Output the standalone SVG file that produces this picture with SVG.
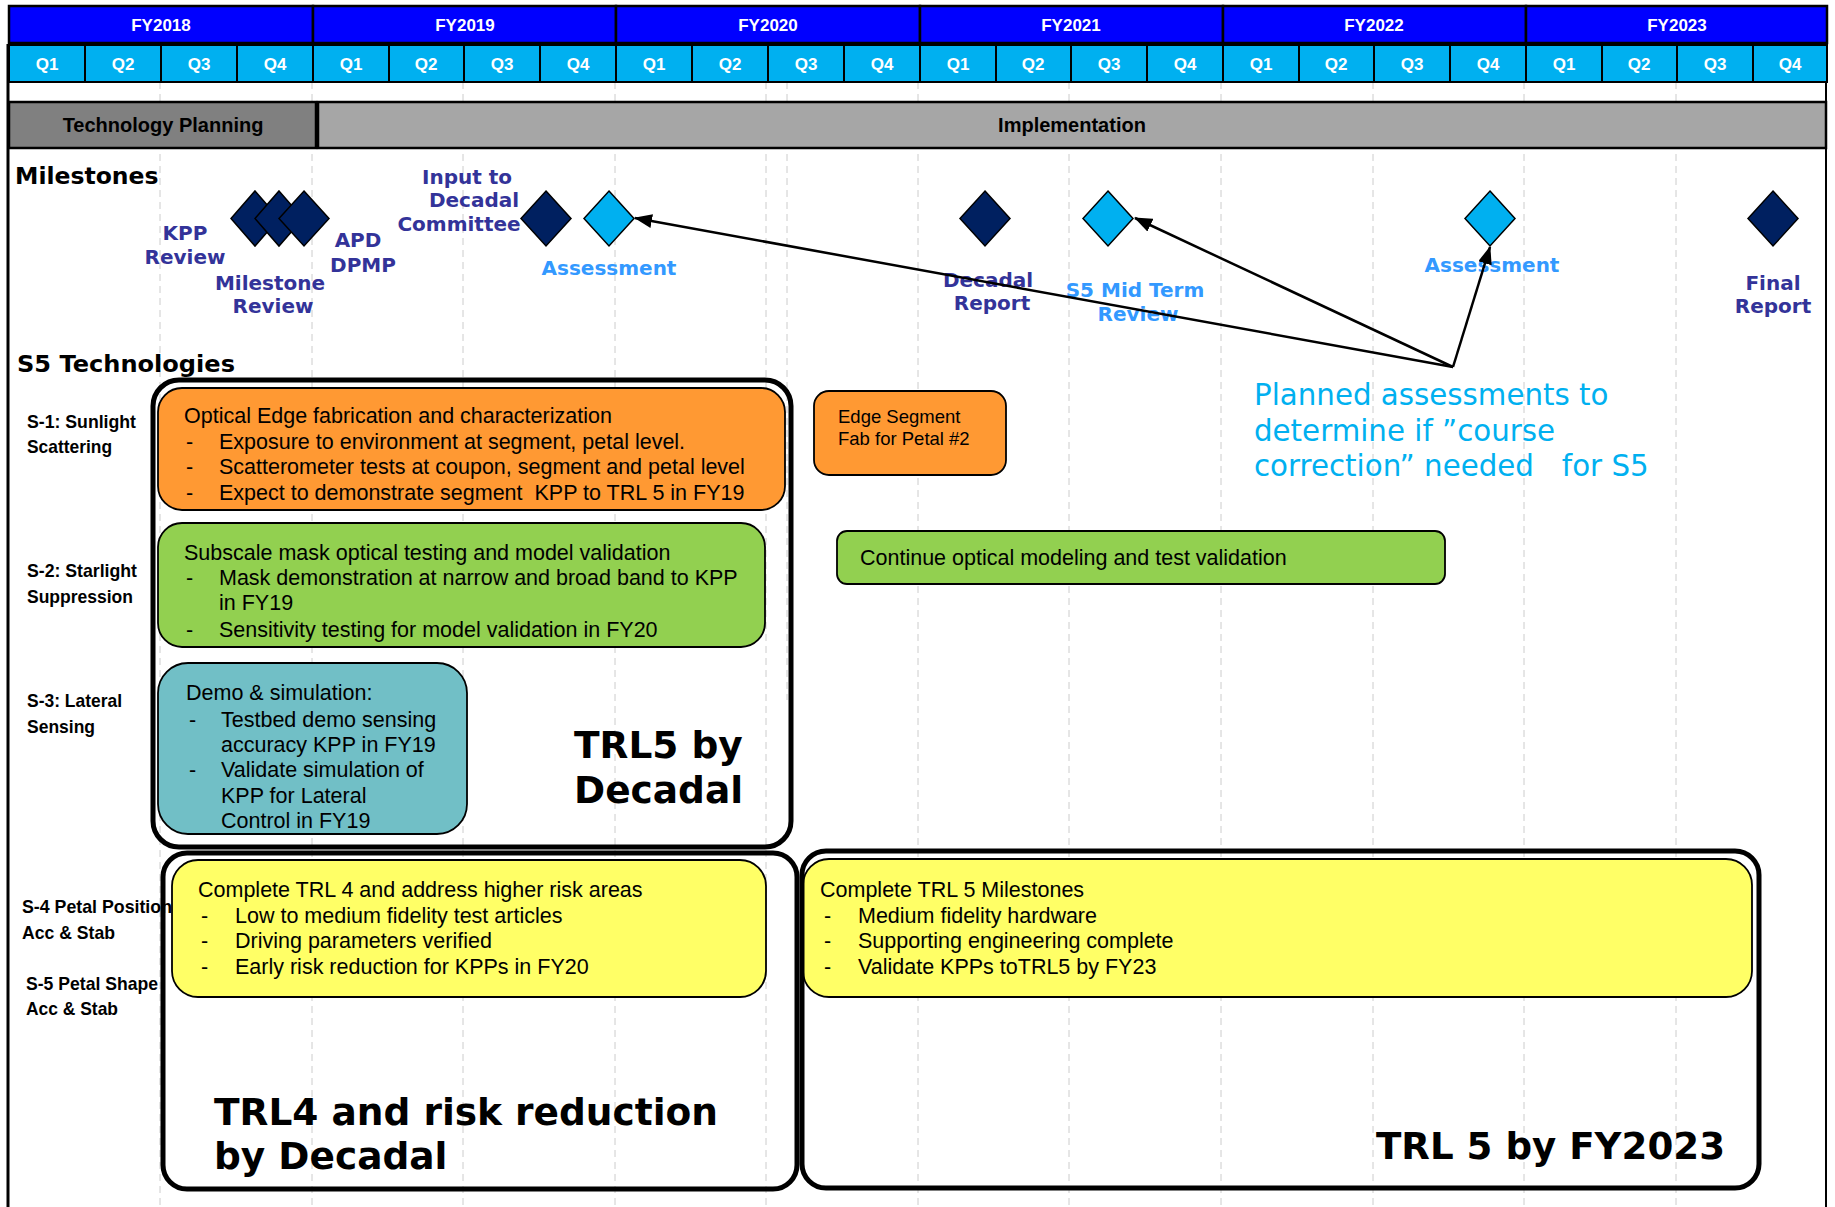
<svg xmlns="http://www.w3.org/2000/svg" width="1835" height="1207" viewBox="0 0 1835 1207">
  <defs>
    <marker id="arrowHead" markerUnits="userSpaceOnUse" markerWidth="18" markerHeight="14" refX="17" refY="7" orient="auto">
      <path d="M0,0 L18,7 L0,14 z" fill="#000"/>
    </marker>
  </defs>
  <style>
    .fy { fill: #0000FF; stroke: #000; stroke-width: 2.5; }
    .q { fill: #00B0F0; stroke: #000; stroke-width: 2; }
    .hdr { font-family: "Liberation Sans", Arial, sans-serif; font-weight: bold; font-size: 17px; fill: #fff; text-anchor: middle; }
    .phase { font-family: "Liberation Sans", Arial, sans-serif; font-weight: bold; font-size: 20px; fill: #000; text-anchor: middle; }
    .grid { stroke: #CCCCCC; stroke-width: 1; stroke-dasharray: 7 5; }
    .section { font-family: "DejaVu Sans", Verdana, sans-serif; font-weight: bold; font-size: 23.5px; fill: #000; }
    .dk { fill: #002060; stroke: #000; stroke-width: 1.5; }
    .lt { fill: #00B0F0; stroke: #000; stroke-width: 1.5; }
    .mlab { font-family: "DejaVu Sans", Verdana, sans-serif; font-weight: bold; font-size: 20px; text-anchor: middle; }
    .navy { fill: #333399; }
    .sky { fill: #3399FF; }
    .conn { stroke: #000; stroke-width: 2.5; fill: none; }
    .note { font-family: "DejaVu Sans", Verdana, sans-serif; font-size: 29.3px; fill: #00B0F0; white-space: pre; }
    .row { font-family: "Liberation Sans Narrow", "Liberation Sans", Arial, sans-serif; font-weight: bold; font-size: 19px; fill: #000; }
    .body { font-family: "Liberation Sans", Arial, sans-serif; font-size: 21.5px; fill: #000; white-space: pre; }
    .small { font-family: "Liberation Sans", Arial, sans-serif; font-size: 18.5px; fill: #000; }
    .frame { fill: none; stroke: #000; stroke-width: 5; }
    .big { font-family: "DejaVu Sans", Verdana, sans-serif; font-weight: bold; font-size: 37.5px; fill: #000; }
    .box { stroke: #000; stroke-width: 1.8; }
  </style>

  <rect width="1835" height="1207" fill="#fff"/>

  <!-- half-year grid -->
  <g id="gridlines">
    <line class="grid" x1="160" y1="82" x2="160" y2="1207"/>
    <line class="grid" x1="312" y1="82" x2="312" y2="1207"/>
    <line class="grid" x1="463" y1="82" x2="463" y2="1207"/>
    <line class="grid" x1="615" y1="82" x2="615" y2="1207"/>
    <line class="grid" x1="766" y1="82" x2="766" y2="1207"/>
    <line class="grid" x1="787" y1="82" x2="787" y2="700"/>
    <line class="grid" x1="918" y1="82" x2="918" y2="1207"/>
    <line class="grid" x1="1069" y1="82" x2="1069" y2="1207"/>
    <line class="grid" x1="1221" y1="82" x2="1221" y2="1207"/>
    <line class="grid" x1="1373" y1="82" x2="1373" y2="1207"/>
    <line class="grid" x1="1524" y1="82" x2="1524" y2="1207"/>
    <line class="grid" x1="1676" y1="82" x2="1676" y2="1207"/>
  </g>

  <!-- fiscal year / quarter header -->
  <g id="header">
    <rect class="fy" x="9" y="6" width="304" height="37"/>
    <rect class="fy" x="313" y="6" width="303" height="37"/>
    <rect class="fy" x="616" y="6" width="304" height="37"/>
    <rect class="fy" x="920" y="6" width="303" height="37"/>
    <rect class="fy" x="1223" y="6" width="303" height="37"/>
    <rect class="fy" x="1526" y="6" width="301" height="37"/>
    <text class="hdr" x="161" y="31">FY2018</text>
    <text class="hdr" x="465" y="31">FY2019</text>
    <text class="hdr" x="768" y="31">FY2020</text>
    <text class="hdr" x="1071" y="31">FY2021</text>
    <text class="hdr" x="1374" y="31">FY2022</text>
    <text class="hdr" x="1677" y="31">FY2023</text>

    <rect class="q" x="9" y="45" width="76" height="37"/>
    <rect class="q" x="85" y="45" width="76" height="37"/>
    <rect class="q" x="161" y="45" width="76" height="37"/>
    <rect class="q" x="237" y="45" width="76" height="37"/>
    <rect class="q" x="313" y="45" width="76" height="37"/>
    <rect class="q" x="389" y="45" width="75" height="37"/>
    <rect class="q" x="464" y="45" width="76" height="37"/>
    <rect class="q" x="540" y="45" width="76" height="37"/>
    <rect class="q" x="616" y="45" width="76" height="37"/>
    <rect class="q" x="692" y="45" width="76" height="37"/>
    <rect class="q" x="768" y="45" width="76" height="37"/>
    <rect class="q" x="844" y="45" width="76" height="37"/>
    <rect class="q" x="920" y="45" width="76" height="37"/>
    <rect class="q" x="996" y="45" width="75" height="37"/>
    <rect class="q" x="1071" y="45" width="76" height="37"/>
    <rect class="q" x="1147" y="45" width="76" height="37"/>
    <rect class="q" x="1223" y="45" width="76" height="37"/>
    <rect class="q" x="1299" y="45" width="75" height="37"/>
    <rect class="q" x="1374" y="45" width="76" height="37"/>
    <rect class="q" x="1450" y="45" width="76" height="37"/>
    <rect class="q" x="1526" y="45" width="76" height="37"/>
    <rect class="q" x="1602" y="45" width="75" height="37"/>
    <rect class="q" x="1677" y="45" width="76" height="37"/>
    <rect class="q" x="1753" y="45" width="74" height="37"/>
    <text class="hdr" x="47" y="70">Q1</text>
    <text class="hdr" x="123" y="70">Q2</text>
    <text class="hdr" x="199" y="70">Q3</text>
    <text class="hdr" x="275" y="70">Q4</text>
    <text class="hdr" x="351" y="70">Q1</text>
    <text class="hdr" x="426" y="70">Q2</text>
    <text class="hdr" x="502" y="70">Q3</text>
    <text class="hdr" x="578" y="70">Q4</text>
    <text class="hdr" x="654" y="70">Q1</text>
    <text class="hdr" x="730" y="70">Q2</text>
    <text class="hdr" x="806" y="70">Q3</text>
    <text class="hdr" x="882" y="70">Q4</text>
    <text class="hdr" x="958" y="70">Q1</text>
    <text class="hdr" x="1033" y="70">Q2</text>
    <text class="hdr" x="1109" y="70">Q3</text>
    <text class="hdr" x="1185" y="70">Q4</text>
    <text class="hdr" x="1261" y="70">Q1</text>
    <text class="hdr" x="1336" y="70">Q2</text>
    <text class="hdr" x="1412" y="70">Q3</text>
    <text class="hdr" x="1488" y="70">Q4</text>
    <text class="hdr" x="1564" y="70">Q1</text>
    <text class="hdr" x="1639" y="70">Q2</text>
    <text class="hdr" x="1715" y="70">Q3</text>
    <text class="hdr" x="1790" y="70">Q4</text>
  </g>

  <!-- outer side borders -->
  <line x1="8" y1="44" x2="8" y2="1207" stroke="#000" stroke-width="3"/>
  <line x1="1826" y1="82" x2="1826" y2="1207" stroke="#000" stroke-width="2"/>

  <!-- phase bar -->
  <g id="phases">
    <rect x="9" y="102" width="307" height="46" fill="#808080" stroke="#000" stroke-width="2.5"/>
    <rect x="318" y="102" width="1508" height="46" fill="#A6A6A6" stroke="#000" stroke-width="2.5"/>
    <text class="phase" x="163" y="132">Technology Planning</text>
    <text class="phase" x="1072" y="132">Implementation</text>
  </g>

  <text class="section" x="15" y="184">Milestones</text>
  <text class="section" x="17" y="372" textLength="218" lengthAdjust="spacingAndGlyphs">S5 Technologies</text>

  <!-- milestones -->
  <g id="ms-kpp-review">
    <path class="dk" d="M255,191 L279,218.5 L255,246 L231,218.5 z"/>
    <text class="mlab navy" x="185" y="240">KPP</text>
    <text class="mlab navy" x="185" y="264">Review</text>
  </g>
  <g id="ms-milestone-review">
    <path class="dk" d="M279,191 L303,218.5 L279,246 L255,218.5 z"/>
    <text class="mlab navy" x="270" y="290">Milestone</text>
    <text class="mlab navy" x="273" y="313">Review</text>
  </g>
  <g id="ms-apd-dpmp">
    <path class="dk" d="M304,191 L329,218.5 L304,246 L279,218.5 z"/>
    <text class="mlab navy" x="358" y="247">APD</text>
    <text class="mlab navy" x="363" y="272">DPMP</text>
  </g>
  <g id="ms-input-decadal">
    <path class="dk" d="M546,191 L571,218.5 L546,246 L521,218.5 z"/>
    <text class="mlab navy" x="467" y="184">Input to</text>
    <text class="mlab navy" x="474" y="207">Decadal</text>
    <text class="mlab navy" x="459" y="231">Committee</text>
  </g>
  <g id="ms-assessment-1">
    <path class="lt" d="M609,191 L634,218.5 L609,246 L584,218.5 z"/>
    <text class="mlab sky" x="609" y="275">Assessment</text>
  </g>
  <g id="ms-decadal-report">
    <path class="dk" d="M985,191 L1010,218.5 L985,246 L960,218.5 z"/>
    <text class="mlab navy" x="988" y="287">Decadal</text>
    <text class="mlab navy" x="992" y="310">Report</text>
  </g>
  <g id="ms-midterm">
    <path class="lt" d="M1108,191 L1133,218.5 L1108,246 L1083,218.5 z"/>
    <text class="mlab sky" x="1135" y="297">S5 Mid Term</text>
    <text class="mlab sky" x="1138" y="321">Review</text>
  </g>
  <g id="ms-assessment-2">
    <path class="lt" d="M1490,191 L1515,218.5 L1490,246 L1465,218.5 z"/>
    <text class="mlab sky" x="1492" y="272">Assessment</text>
  </g>
  <g id="ms-final-report">
    <path class="dk" d="M1773,191 L1798,218.5 L1773,246 L1748,218.5 z"/>
    <text class="mlab navy" x="1773" y="290">Final</text>
    <text class="mlab navy" x="1773" y="313">Report</text>
  </g>

  <!-- assessment call-outs -->
  <g id="connectors">
    <line class="conn" x1="1453" y1="367" x2="635" y2="218" stroke-width="3" marker-end="url(#arrowHead)"/>
    <line class="conn" x1="1453" y1="367" x2="1135" y2="218" marker-end="url(#arrowHead)"/>
    <line class="conn" x1="1453" y1="367" x2="1490" y2="247" marker-end="url(#arrowHead)"/>
  </g>

  <g id="note">
    <text class="note" x="1254" y="405">Planned assessments to</text>
    <text class="note" x="1254" y="441">determine if ”course</text>
    <text class="note" x="1254" y="476">correction” needed   for S5</text>
  </g>

  <!-- technology row labels -->
  <g id="row-labels">
    <text class="row" x="27" y="428" textLength="109" lengthAdjust="spacingAndGlyphs">S-1: Sunlight</text>
    <text class="row" x="27" y="453" textLength="85" lengthAdjust="spacingAndGlyphs">Scattering</text>
    <text class="row" x="27" y="577" textLength="110" lengthAdjust="spacingAndGlyphs">S-2: Starlight</text>
    <text class="row" x="27" y="603" textLength="106" lengthAdjust="spacingAndGlyphs">Suppression</text>
    <text class="row" x="27" y="707" textLength="95" lengthAdjust="spacingAndGlyphs">S-3: Lateral</text>
    <text class="row" x="27" y="733" textLength="68" lengthAdjust="spacingAndGlyphs">Sensing</text>
    <text class="row" x="22" y="913" textLength="150" lengthAdjust="spacingAndGlyphs">S-4 Petal Position</text>
    <text class="row" x="22" y="939" textLength="93" lengthAdjust="spacingAndGlyphs">Acc &amp; Stab</text>
    <text class="row" x="26" y="990" textLength="132" lengthAdjust="spacingAndGlyphs">S-5 Petal Shape</text>
    <text class="row" x="26" y="1015" textLength="92" lengthAdjust="spacingAndGlyphs">Acc &amp; Stab</text>
  </g>

  <!-- S-1 -->
  <g id="s1-optical-edge">
    <rect class="box" x="158" y="388" width="627" height="122" rx="24" fill="#FF9933"/>
    <text class="body" x="184" y="423">Optical Edge fabrication and characterization</text>
    <text class="body" x="186" y="449">-</text>
    <text class="body" x="219" y="449">Exposure to environment at segment, petal level.</text>
    <text class="body" x="186" y="474">-</text>
    <text class="body" x="219" y="474">Scatterometer tests at coupon, segment and petal level</text>
    <text class="body" x="186" y="500">-</text>
    <text class="body" x="219" y="500">Expect to demonstrate segment  KPP to TRL 5 in FY19</text>
  </g>
  <g id="s1-edge-segment">
    <rect class="box" x="814" y="391" width="192" height="84" rx="15" fill="#FF9933"/>
    <text class="small" x="838" y="423">Edge Segment</text>
    <text class="small" x="838" y="445">Fab for Petal #2</text>
  </g>

  <!-- S-2 -->
  <g id="s2-subscale-mask">
    <rect class="box" x="158" y="523" width="607" height="124" rx="24" fill="#92D050"/>
    <text class="body" x="184" y="560">Subscale mask optical testing and model validation</text>
    <text class="body" x="186" y="585">-</text>
    <text class="body" x="219" y="585">Mask demonstration at narrow and broad band to KPP</text>
    <text class="body" x="219" y="610">in FY19</text>
    <text class="body" x="186" y="637">-</text>
    <text class="body" x="219" y="637">Sensitivity testing for model validation in FY20</text>
  </g>
  <g id="s2-continue">
    <rect class="box" x="837" y="531" width="608" height="53" rx="10" fill="#92D050"/>
    <text class="body" x="860" y="565">Continue optical modeling and test validation</text>
  </g>

  <!-- S-3 -->
  <g id="s3-demo">
    <rect class="box" x="158" y="663" width="309" height="171" rx="30" fill="#71BFC6"/>
    <text class="body" x="186" y="700">Demo &amp; simulation:</text>
    <text class="body" x="189" y="727">-</text>
    <text class="body" x="221" y="727">Testbed demo sensing</text>
    <text class="body" x="221" y="752">accuracy KPP in FY19</text>
    <text class="body" x="189" y="777">-</text>
    <text class="body" x="221" y="777">Validate simulation of</text>
    <text class="body" x="221" y="803">KPP for Lateral</text>
    <text class="body" x="221" y="828">Control in FY19</text>
  </g>

  <g id="goal-trl5-decadal">
    <rect class="frame" x="153" y="380" width="638" height="467" rx="26"/>
    <text class="big" x="574" y="758">TRL5 by</text>
    <text class="big" x="574" y="803">Decadal</text>
  </g>

  <!-- S-4 / S-5 -->
  <g id="s45-trl4">
    <rect class="box" x="172" y="860" width="594" height="137" rx="26" fill="#FFFF66"/>
    <text class="body" x="198" y="897">Complete TRL 4 and address higher risk areas</text>
    <text class="body" x="201" y="923">-</text>
    <text class="body" x="235" y="923">Low to medium fidelity test articles</text>
    <text class="body" x="201" y="948">-</text>
    <text class="body" x="235" y="948">Driving parameters verified</text>
    <text class="body" x="201" y="974">-</text>
    <text class="body" x="235" y="974">Early risk reduction for KPPs in FY20</text>
  </g>
  <g id="goal-trl4-decadal">
    <rect class="frame" x="163" y="853" width="634" height="336" rx="24"/>
    <text class="big" x="214" y="1125" font-size="37.8">TRL4 and risk reduction</text>
    <text class="big" x="214" y="1169" font-size="37.8">by Decadal</text>
  </g>

  <g id="s45-trl5">
    <rect class="box" x="803" y="859" width="949" height="138" rx="26" fill="#FFFF66"/>
    <text class="body" x="820" y="897">Complete TRL 5 Milestones</text>
    <text class="body" x="824" y="923">-</text>
    <text class="body" x="858" y="923">Medium fidelity hardware</text>
    <text class="body" x="824" y="948">-</text>
    <text class="body" x="858" y="948">Supporting engineering complete</text>
    <text class="body" x="824" y="974">-</text>
    <text class="body" x="858" y="974">Validate KPPs toTRL5 by FY23</text>
  </g>
  <g id="goal-trl5-fy2023">
    <rect class="frame" x="802" y="851" width="957" height="337" rx="24"/>
    <text class="big" x="1725" y="1159" text-anchor="end" textLength="349" lengthAdjust="spacingAndGlyphs">TRL 5 by FY2023</text>
  </g>
</svg>
